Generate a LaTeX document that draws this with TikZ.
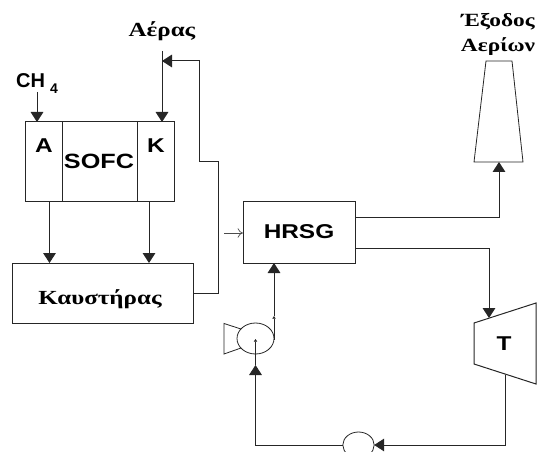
\documentclass[tikz,border=0pt]{standalone}
\usepackage{fontspec}
\setmainfont[FakeStretch=1.25]{Liberation Serif}
\setsansfont[FakeStretch=1.22]{Liberation Sans}
\newfontfamily\plainsans{Liberation Sans}
\usetikzlibrary{arrows.meta,shapes.geometric}
\tikzset{
  x=0.75pt,y=-0.75pt,
  line/.style={draw=black!85,line width=0.75pt,line join=miter},
  tip/.style={-{Triangle[length=7.5pt,width=9.5pt]}},
  tinytip/.style={-{Triangle[length=2pt,width=2.5pt]}},
  opentip/.style={-{To[length=4pt,width=7pt]},draw=black!70,line width=0.5pt},
  sanslabel/.style={font=\sffamily\bfseries\fontsize{15}{17}\selectfont,inner sep=0pt},
  greeklabel/.style={font=\bfseries\fontsize{15}{18.75}\selectfont,inner sep=0pt,align=center},
  boxnode/.style={line,rectangle,inner sep=0pt,outer sep=0pt},
  thinellipse/.style={draw=black!85,line width=0.6pt,ellipse,inner sep=0pt,outer sep=0pt},
}
\begin{document}
\begin{tikzpicture}
\useasboundingbox (0,0) rectangle (538,452);
\begin{scope}
\clip (0,0) rectangle (538,452);
% SOFC stack
\node[boxnode,minimum width=111.75pt,minimum height=60pt] (stackbox) at (99.5,162) {};
\coordinate (divA) at (62,122);
\coordinate (divK) at (137,122);
\draw[line] (divA) -- (divA |- stackbox.south);
\draw[line] (divK) -- (divK |- stackbox.south);
\node[sanslabel] (anode) at (44,146) {A};
\node[sanslabel,font=\sffamily\bfseries\fontsize{15.5}{17}\selectfont] (sofc) at (99,161) {SOFC};
\node[sanslabel] (cathode) at (156,146) {K};
% inputs
\node[sanslabel,anchor=base,font=\plainsans\bfseries\fontsize{15}{17}\selectfont] (ch4) at (37,88) {CH\hspace{3.75pt}\raisebox{-4pt}{\fontsize{10.5}{12}\selectfont 4}};
\node[greeklabel,anchor=base] (aeras) at (162,37) {Αέρας};
\coordinate (ch4in) at (37,92);
\coordinate (airin) at (162,51);
\draw[line,tip] (ch4in) -- (ch4in |- stackbox.north);
\draw[line,tip] (airin) -- (airin |- stackbox.north);
% burner
\node[boxnode,minimum width=135.75pt,minimum height=45pt] (burnerbox) at (102.5,293) {};
\node[greeklabel,anchor=base] (burner) at (100,304) {Καυστήρας};
\coordinate (portA) at (49.5,202);
\coordinate (portK) at (149,202);
\draw[line,tip] (portA) -- (portA |- burnerbox.north);
\draw[line,tip] (portK) -- (portK |- burnerbox.north);
% recirculation
\coordinate (bendA) at (218,162);
\coordinate (bendB) at (199,61);
\coordinate (airjoin) at (162,61);
\draw[line,tip] (burnerbox.east) -| (bendA) -- (bendA -| bendB) -- (bendB) -- (airjoin);
% HRSG
\node[boxnode,minimum width=84pt,minimum height=45.75pt] (hrsgbox) at (299,232.5) {};
\node[sanslabel] (hrsg) at (299,232) {HRSG};
\coordinate (hrsgin) at (224,233);
\draw[opentip] (hrsgin) -- (hrsgin -| hrsgbox.west);
% exhaust stack
\coordinate (s1) at (474,162);
\coordinate (s2) at (486,61);
\coordinate (s3) at (512,61);
\coordinate (s4) at (523,162);
\draw[line,line width=0.6pt] (s1) -- (s2) -- (s3) -- (s4) -- cycle;
\node[greeklabel,font=\bfseries\fontsize{14}{18.75}\selectfont] (exit) at (498,34) {Έξοδος\\Αερίων};
\coordinate (hout1) at (355,217);
\coordinate (stackin) at (499,162);
\draw[line,tip] (hout1) -| (stackin);
% turbine
\coordinate (t1) at (474,323);
\coordinate (t2) at (536,303);
\coordinate (t3) at (536,384);
\coordinate (t4) at (474,364);
\draw[line] (t1) -- (t2) -- (t3) -- (t4) -- cycle;
\node[sanslabel] (turb) at (504,344) {T};
\coordinate (hout2) at (355,248);
\coordinate (turbin) at (489,318);
\draw[line,tip] (hout2) -| (turbin);
% condensate pump, cut by the page edge
\node[thinellipse,minimum width=23.5pt,minimum height=19.5pt] (cond) at (358.5,445) {};
\coordinate (turbout) at (505,375);
\draw[line,tip] (turbout) |- (cond.east);
% feed pump with motor
\node[thinellipse,minimum width=27.75pt,minimum height=23.25pt] (pump) at (255.5,338.5) {};
\coordinate (m1) at (241,329);
\coordinate (m2) at (224,323.5);
\coordinate (m3) at (224,354);
\coordinate (m4) at (241,348);
\draw[line,line width=0.6pt] (m1) -- (m2) -- (m3) -- (m4);
\coordinate (pumpin) at (255.5,365);
\coordinate (pumpcentre) at (255.5,339);
\draw[line,tip] (cond.west) -| (pumpin);
\draw[line,tinytip] (pumpin) -- (pumpcentre);
\coordinate (pumpout) at (274,340);
\coordinate (pumpmid) at (274,316);
\draw[line,tinytip] (pumpout) -- (pumpmid);
\draw[line,tip] (pumpmid) -- (pumpmid |- hrsgbox.south);
\end{scope}
\end{tikzpicture}
\end{document}
